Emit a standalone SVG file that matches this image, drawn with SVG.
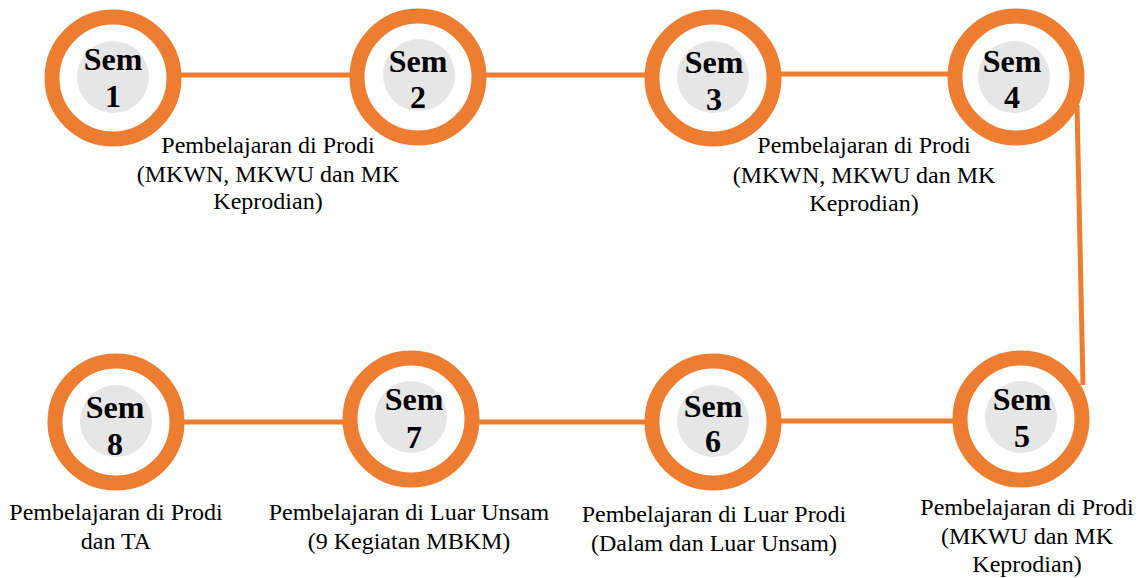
<svg xmlns="http://www.w3.org/2000/svg" width="1139" height="578" viewBox="0 0 1139 578">
<style>
.ring{fill:#ffffff;stroke:#ED7D31;stroke-width:15}
.core{fill:#E6E6E6}
.lbl{font-family:"Liberation Serif","Times New Roman",serif;font-weight:bold;font-size:32px;fill:#000;text-anchor:middle}
.cap{font-family:"Liberation Serif","Times New Roman",serif;font-size:24px;fill:#000;text-anchor:middle}
.con{stroke:#ED7D31;stroke-width:5;fill:none}
</style>
<rect width="1139" height="578" fill="#ffffff"/>
<g id="connectors">
<line class="con" x1="175" y1="75" x2="355" y2="75"/>
<line class="con" x1="480" y1="75" x2="650" y2="75"/>
<line class="con" x1="775" y1="74" x2="955" y2="74"/>
<path class="con" d="M1077 105 L1083 385"/>
<line class="con" x1="955" y1="421" x2="775" y2="421"/>
<line class="con" x1="650" y1="422" x2="475" y2="422"/>
<line class="con" x1="350" y1="422" x2="180" y2="422"/>
</g>
<g id="sem1">
<circle class="ring" cx="113" cy="78" r="61"/>
<circle class="core" cx="113" cy="77" r="36"/>
<text class="lbl" x="113" y="70">Sem</text>
<text class="lbl" x="113" y="107">1</text>
</g>
<g id="sem2">
<circle class="ring" cx="418" cy="77" r="61"/>
<circle class="core" cx="419" cy="75" r="36"/>
<text class="lbl" x="418" y="72">Sem</text>
<text class="lbl" x="418" y="108">2</text>
</g>
<g id="sem3">
<circle class="ring" cx="713" cy="78" r="61"/>
<circle class="core" cx="713" cy="77" r="36"/>
<text class="lbl" x="714" y="73">Sem</text>
<text class="lbl" x="714" y="110">3</text>
</g>
<g id="sem4">
<circle class="ring" cx="1016" cy="77" r="61"/>
<circle class="core" cx="1014" cy="77" r="36"/>
<text class="lbl" x="1012" y="72">Sem</text>
<text class="lbl" x="1012" y="108">4</text>
</g>
<g id="sem5">
<circle class="ring" cx="1021" cy="419" r="61"/>
<circle class="core" cx="1021" cy="417" r="36"/>
<text class="lbl" x="1022" y="410">Sem</text>
<text class="lbl" x="1022" y="447">5</text>
</g>
<g id="sem6">
<circle class="ring" cx="713" cy="422" r="61"/>
<circle class="core" cx="713" cy="421" r="36"/>
<text class="lbl" x="713" y="417">Sem</text>
<text class="lbl" x="713" y="452">6</text>
</g>
<g id="sem7">
<circle class="ring" cx="411" cy="419" r="61"/>
<circle class="core" cx="411" cy="417" r="36"/>
<text class="lbl" x="414" y="410">Sem</text>
<text class="lbl" x="414" y="448">7</text>
</g>
<g id="sem8">
<circle class="ring" cx="116" cy="422" r="61"/>
<circle class="core" cx="116" cy="421" r="36"/>
<text class="lbl" x="115" y="418">Sem</text>
<text class="lbl" x="115" y="455">8</text>
</g>
<g id="captions">
<text class="cap" x="268" y="153">Pembelajaran di Prodi</text>
<text class="cap" x="268" y="182">(MKWN, MKWU dan MK</text>
<text class="cap" x="268" y="209">Keprodian)</text>
<text class="cap" x="864" y="153">Pembelajaran di Prodi</text>
<text class="cap" x="864" y="183">(MKWN, MKWU dan MK</text>
<text class="cap" x="864" y="211">Keprodian)</text>
<text class="cap" x="1027" y="515">Pembelajaran di Prodi</text>
<text class="cap" x="1027" y="544">(MKWU dan MK</text>
<text class="cap" x="1027" y="572">Keprodian)</text>
<text class="cap" x="714" y="522">Pembelajaran di Luar Prodi</text>
<text class="cap" x="714" y="551">(Dalam dan Luar Unsam)</text>
<text class="cap" x="409" y="520">Pembelajaran di Luar Unsam</text>
<text class="cap" x="409" y="549">(9 Kegiatan MBKM)</text>
<text class="cap" x="116" y="520">Pembelajaran di Prodi</text>
<text class="cap" x="116" y="549">dan TA</text>
</g>
</svg>
